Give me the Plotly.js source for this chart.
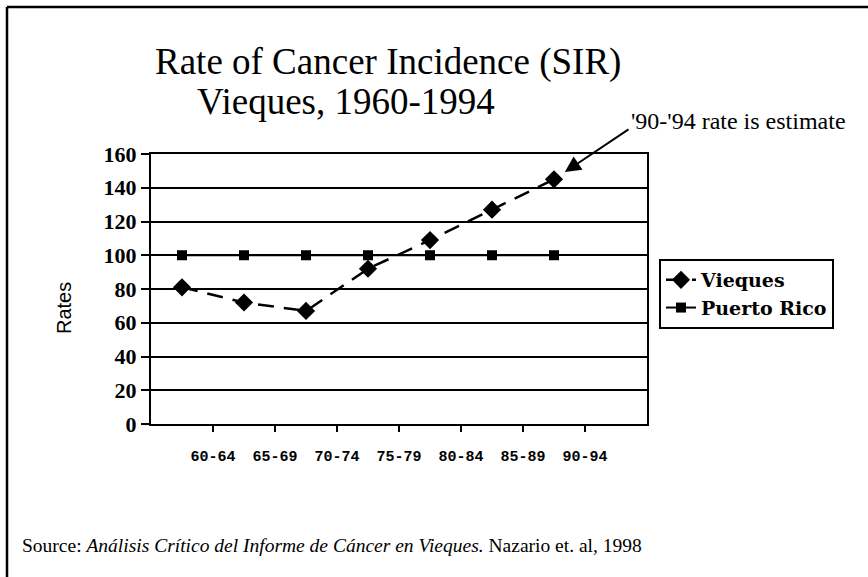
<!DOCTYPE html>
<html>
<head>
<meta charset="utf-8">
<script src="https://cdn.plot.ly/plotly-3.0.1.min.js"></script>
<style>
html,body{margin:0;padding:0;background:#fff;}
#chart{width:868px;height:577px;}
</style>
</head>
<body>
<div id="chart"></div>
<script>
// ---- data ----
const periods = ["60-64", "65-69", "70-74", "75-79", "80-84", "85-89", "90-94"];
const vieques = [81, 72, 67, 92, 109, 127, 145];
const puertoRico = [100, 100, 100, 100, 100, 100, 100];
const seriesNames = ["Vieques", "Puerto Rico"];
const yTicks = [0, 20, 40, 60, 80, 100, 120, 140, 160];

// ---- layout geometry (pixels) ----
const W = 868, H = 577;
const L = 151, R = 647, T = 154, B = 424;
const px2x = p => (p - L) / (R - L);
const py2y = p => (B - p) / (B - T);

const idx = periods.map((_, i) => i);

const traces = [
  {
    x: idx, y: vieques, name: seriesNames[0], type: "scatter", mode: "lines+markers",
    line: {color: "#000", width: 2.5, dash: "16px,10px"},
    marker: {symbol: "diamond", size: 14, color: "#000"}
  },
  {
    x: idx, y: puertoRico, name: seriesNames[1], type: "scatter", mode: "lines+markers",
    line: {color: "#000", width: 2},
    marker: {symbol: "square", size: 10, color: "#000"}
  }
];

const layout = {
  width: W, height: H,
  margin: {l: L, r: W - R, t: T, b: H - B, pad: 0},
  paper_bgcolor: "#fff", plot_bgcolor: "#fff",
  showlegend: true,
  legend: {
    x: px2x(659), y: py2y(259), xanchor: "left", yanchor: "top",
    bordercolor: "#000", borderwidth: 2, bgcolor: "#fff",
    font: {family: "DejaVu Serif", size: 19, color: "#000", weight: "bold"},
    tracegroupgap: 0, itemwidth: 30
  },
  xaxis: {
    range: [-0.5, periods.length + 0.5],
    tickmode: "array",
    tickvals: periods.map((_, i) => i + 0.5),
    ticktext: periods,
    ticks: "outside", ticklen: 6, tickwidth: 2, tickcolor: "#000",
    ticklabelstandoff: 11,
    showgrid: false, zeroline: false,
    showline: true, linecolor: "#000", linewidth: 2, mirror: true,
    tickfont: {family: "Liberation Mono", size: 15, color: "#000", weight: "bold"},
    fixedrange: true
  },
  yaxis: {
    range: [0, 160],
    tickmode: "array", tickvals: yTicks, ticktext: yTicks.map(String),
    ticks: "outside", ticklen: 8, tickwidth: 2, tickcolor: "#000",
    showgrid: true, gridcolor: "#000", gridwidth: 2,
    zeroline: false,
    showline: true, linecolor: "#000", linewidth: 2, mirror: true,
    tickfont: {family: "Liberation Serif", size: 22, color: "#000", weight: "bold"},
    fixedrange: true
  },
  annotations: [
    {xref: "paper", yref: "paper", x: px2x(388), y: py2y(62), xanchor: "center", yanchor: "middle",
     text: "Rate of Cancer Incidence (SIR)", showarrow: false,
     font: {family: "Liberation Serif", size: 37, color: "#000"}},
    {xref: "paper", yref: "paper", x: px2x(346), y: py2y(101), xanchor: "center", yanchor: "middle",
     text: "Vieques, 1960-1994", showarrow: false,
     font: {family: "Liberation Serif", size: 37, color: "#000"}},
    {xref: "paper", yref: "paper", x: px2x(64), y: py2y(308), xanchor: "center", yanchor: "middle",
     text: "Rates", textangle: -90, showarrow: false,
     font: {family: "Liberation Sans", size: 20, color: "#000"}},
    {xref: "paper", yref: "paper", x: px2x(738), y: py2y(121), xanchor: "center", yanchor: "middle",
     text: "'90-'94 rate is estimate", showarrow: false,
     font: {family: "Liberation Serif", size: 24, color: "#000"}},
    {xref: "x", yref: "y", x: periods.length - 1, y: vieques[vieques.length - 1],
     ax: 76, ay: -51, axref: "pixel", ayref: "pixel",
     text: "", showarrow: true, arrowhead: 2, arrowsize: 1.6, arrowwidth: 2, arrowcolor: "#000",
     standoff: 13},
    {xref: "paper", yref: "paper", x: px2x(20), y: py2y(545), xanchor: "left", yanchor: "middle",
     text: "Source: <i>Análisis Crítico del Informe de Cáncer en Vieques.</i> Nazario et. al, 1998",
     showarrow: false,
     font: {family: "Liberation Serif", size: 19.5, color: "#000"}}
  ],
  shapes: [
    {type: "line", xref: "paper", yref: "paper", x0: px2x(7), x1: px2x(868), y0: py2y(7), y1: py2y(7),
     line: {color: "#000", width: 2.5}},
    {type: "line", xref: "paper", yref: "paper", x0: px2x(7), x1: px2x(7), y0: py2y(7), y1: py2y(577),
     line: {color: "#000", width: 2.5}}
  ]
};

Plotly.newPlot("chart", traces, layout, {displayModeBar: false, staticPlot: true});
</script>
</body>
</html>
